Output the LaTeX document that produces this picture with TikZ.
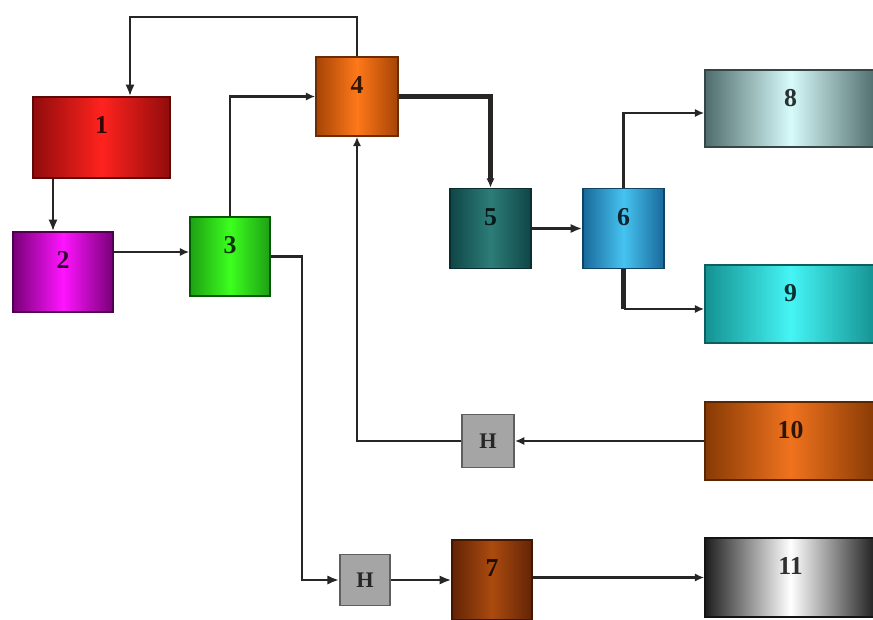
\documentclass[tikz,border=0pt]{standalone}
\usepackage{fontspec}
\setmainfont{Liberation Serif}
\usetikzlibrary{arrows.meta}

% block colours: edge shade (E) and centre shade (M)
\definecolor{redE}{RGB}{145,12,12}   \definecolor{redM}{RGB}{255,35,30}
\definecolor{magE}{RGB}{120,0,120}   \definecolor{magM}{RGB}{255,20,255}
\definecolor{grnE}{RGB}{30,160,20}   \definecolor{grnM}{RGB}{60,255,30}
\definecolor{orgE}{RGB}{165,68,5}    \definecolor{orgM}{RGB}{255,120,25}
\definecolor{tealE}{RGB}{15,70,70}   \definecolor{tealM}{RGB}{45,125,120}
\definecolor{bluE}{RGB}{25,105,155}  \definecolor{bluM}{RGB}{70,195,240}
\definecolor{brnE}{RGB}{100,36,5}    \definecolor{brnM}{RGB}{170,75,15}
\definecolor{gcyE}{RGB}{80,108,108}  \definecolor{gcyM}{RGB}{215,250,250}
\definecolor{cyaE}{RGB}{20,145,145}  \definecolor{cyaM}{RGB}{70,245,245}
\definecolor{orbE}{RGB}{135,58,5}    \definecolor{orbM}{RGB}{240,115,30}
\definecolor{gryE}{RGB}{30,30,30}    \definecolor{gryM}{RGB}{255,255,255}
\definecolor{hFill}{RGB}{165,165,165}\definecolor{hEdge}{RGB}{95,95,95}
\definecolor{wire}{RGB}{40,38,36}

\begin{document}
\begin{tikzpicture}[x=0.03cm,y=-0.03cm,
  sz/.style 2 args={minimum width=#1*0.03cm, minimum height=#2*0.03cm},
  blk/.style 2 args={left color=#1, right color=#1, middle color=#2,
    draw=#1!65!black, line width=1.3pt, inner sep=0pt},
  numlbl/.style={font=\fontsize{22}{22}\selectfont\bfseries, text=black,
    text opacity=0.8, inner sep=0pt, anchor=center, yshift=-0.87cm},
  hbox/.style={fill=hFill, draw=hEdge, line width=1.6pt, inner sep=0pt,
    font=\fontsize{19}{19}\selectfont\bfseries, text=black!85},
  wireln/.style={draw=wire, line width=2.1pt},
  heavy/.style={draw=wire, line width=3.6pt},
  arr/.style={wireln, -{Latex[length=10pt, width=8pt]}},
  arrs/.style={wireln, -{Latex[length=8pt, width=7pt]}}]

\useasboundingbox (0,0) rectangle (873,619);
\clip (0,0) rectangle (873,619);
\fill[white] (0,0) rectangle (873,619);

% process blocks
\node[blk={redE}{redM}, sz={137}{81}, label={[numlbl]north:1}] (n1) at (101.5,137.5) {};
\node[blk={magE}{magM}, sz={100}{80}, label={[numlbl]north:2}] (n2) at (63,272) {};
\node[blk={grnE}{grnM}, sz={80}{79}, draw=green!35!black, label={[numlbl]north:3}] (n3) at (230,256.5) {};
\node[blk={orgE}{orgM}, sz={82}{79}, label={[numlbl]north:4}] (n4) at (357,96.5) {};
\node[blk={tealE}{tealM}, sz={81}{80}, label={[numlbl]north:5}] (n5) at (490.5,228.5) {};
\node[blk={bluE}{bluM}, sz={81}{80}, label={[numlbl]north:6}] (n6) at (623.5,228.5) {};
\node[blk={brnE}{brnM}, sz={80}{80}, label={[numlbl]north:7}] (n7) at (492,580) {};
\node[blk={gcyE}{gcyM}, sz={171}{77}, label={[numlbl]north:8}] (n8) at (790.5,108.5) {};
\node[blk={cyaE}{cyaM}, sz={171}{78}, label={[numlbl]north:9}] (n9) at (790.5,304) {};
\node[blk={orbE}{orbM}, sz={171}{78}, label={[numlbl]north:10}] (n10) at (790.5,441) {};
\node[blk={gryE}{gryM}, sz={171}{79}, label={[numlbl]north:11}] (n11) at (790.5,577.5) {};

% small H units
\node[hbox, sz={52}{53}] (h1) at (488,441) {H};
\node[hbox, sz={50}{51}] (h2) at (365,580) {H};

% routing points
\coordinate (top41) at (130,17);
\coordinate (lane12) at (53,0);
\coordinate (row23) at (0,252);
\coordinate (row68) at (0,113);
\coordinate (row69) at (0,309);
\coordinate (lane3h) at (302,0);

% connectors
\draw[arr] (n4.north) |- (top41) -- (n1.north -| top41);
\draw[arr] (n1.south -| lane12) -- (n2.north -| lane12);
\draw[arrs] (n2.east |- row23) -- (n3.west |- row23);
\draw[arrs] (n3.north) |- (n4.west);
\draw[heavy] (n4.east) -| ([yshift=5pt]n5.north);
\draw[arrs] ([yshift=5pt]n5.north) -- (n5.north);
\draw[arr] (n5.east) -- (n6.west);
\draw[arrs] (n6.north) |- (n8.west |- row68);
\draw[heavy] (n6.south) -- (n6.south |- row69);
\draw[arrs] (n6.south |- row69) -- (n9.west |- row69);
\draw[arrs] (n10.west) -- (h1.east);
\draw[wireln] (h1.west) -| ([yshift=-6pt]n4.south);
\draw[arrs] ([yshift=-6pt]n4.south) -- (n4.south);
\draw[arr] (n3.east) -| (lane3h |- h2.west) -- (h2.west);
\draw[arr] (h2.east) -- (n7.west);
\draw[arrs] (n7.east |- n11.west) -- (n11.west);

\end{tikzpicture}
\end{document}
